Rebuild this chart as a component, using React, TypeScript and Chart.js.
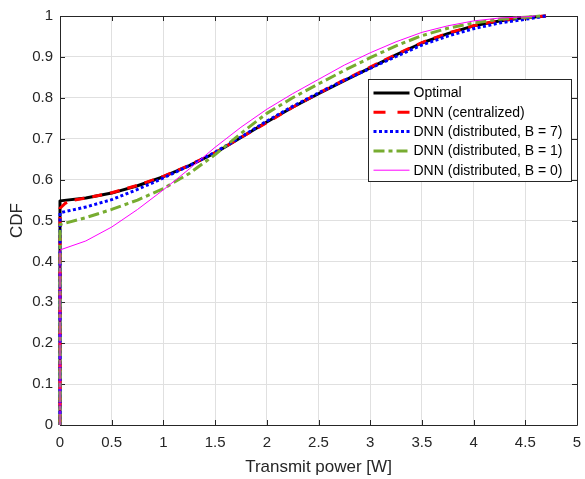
import React, { useEffect, useRef } from 'react';
import { Chart, registerables } from 'chart.js';

Chart.register(...registerables);

// ---- data ----
const xTicksMax = 5;
const yTicksMax = 1;

const optimalX = [0, 0, 0.25, 0.5, 0.75, 1, 1.25, 1.5, 1.75, 2, 2.25, 2.5, 2.75, 3, 3.25, 3.5, 3.75, 4, 4.25, 4.5, 4.7];
const optimalY = [0, 0.548, 0.555, 0.567, 0.585, 0.607, 0.634, 0.665, 0.703, 0.741, 0.777, 0.81, 0.842, 0.873, 0.905, 0.934, 0.957, 0.976, 0.988, 0.996, 1.0];

const centralX = [0, 0, 0.05, 0.1, 0.25, 0.5, 0.75, 1, 1.25, 1.5, 1.75, 2, 2.25, 2.5, 2.75, 3, 3.25, 3.5, 3.75, 4, 4.25, 4.5, 4.7];
const centralY = [0, 0.53, 0.542, 0.548, 0.555, 0.568, 0.586, 0.608, 0.635, 0.666, 0.703, 0.739, 0.777, 0.811, 0.844, 0.875, 0.906, 0.935, 0.958, 0.976, 0.989, 0.996, 1.0];

const distB7X = [0, 0, 0.25, 0.5, 0.75, 1, 1.25, 1.5, 1.75, 2, 2.25, 2.5, 2.75, 3, 3.25, 3.5, 3.75, 4, 4.25, 4.5, 4.7];
const distB7Y = [0, 0.519, 0.533, 0.551, 0.576, 0.604, 0.634, 0.667, 0.704, 0.743, 0.779, 0.812, 0.843, 0.872, 0.901, 0.929, 0.951, 0.969, 0.983, 0.992, 1.0];

const distB1X = [0, 0, 0.25, 0.5, 0.75, 1, 1.25, 1.5, 1.75, 2, 2.25, 2.5, 2.75, 3, 3.25, 3.5, 3.75, 4, 4.25, 4.5, 4.65];
const distB1Y = [0, 0.49, 0.507, 0.527, 0.55, 0.578, 0.615, 0.661, 0.713, 0.762, 0.8, 0.834, 0.867, 0.898, 0.927, 0.952, 0.97, 0.983, 0.992, 0.997, 1.0];

const distB0X = [0, 0, 0.25, 0.5, 0.75, 1, 1.25, 1.5, 1.75, 2, 2.25, 2.5, 2.75, 3, 3.25, 3.5, 3.75, 4, 4.25, 4.5, 4.6];
const distB0Y = [0, 0.428, 0.45, 0.484, 0.527, 0.575, 0.626, 0.679, 0.728, 0.772, 0.81, 0.845, 0.88, 0.91, 0.937, 0.96, 0.976, 0.988, 0.995, 0.998, 1.0];

const seriesLabels = [
  'Optimal',
  'DNN (centralized)',
  'DNN (distributed, B = 7)',
  'DNN (distributed, B = 1)',
  'DNN (distributed, B = 0)',
];

const xAxisTitle = 'Transmit power [W]';
const yAxisTitle = 'CDF';

const FONT = '"Liberation Sans", Arial, Helvetica, sans-serif';
const AXIS_COLOR = '#262626';

const toPoints = (xs: number[], ys: number[]) => xs.map((x, i) => ({ x, y: ys[i] }));

const framePlugin = {
  id: 'matlabFrame',
  beforeDatasetsDraw(chart: any) {
    const { ctx, chartArea } = chart;
    const { left, right, top, bottom } = chartArea;
    ctx.save();
    ctx.strokeStyle = AXIS_COLOR;
    ctx.lineWidth = 1;
    ctx.beginPath();
    ctx.rect(Math.round(left) + 0.5, Math.round(top) + 0.5, Math.round(right - left), Math.round(bottom - top));
    ctx.stroke();
    const tl = 5;
    const xs = chart.scales.x;
    const ys = chart.scales.y;
    ctx.beginPath();
    xs.ticks.forEach((t: any) => {
      const px = Math.round(xs.getPixelForValue(t.value)) + 0.5;
      ctx.moveTo(px, bottom);
      ctx.lineTo(px, bottom - tl);
      ctx.moveTo(px, top);
      ctx.lineTo(px, top + tl);
    });
    ys.ticks.forEach((t: any) => {
      const py = Math.round(ys.getPixelForValue(t.value)) + 0.5;
      ctx.moveTo(left, py);
      ctx.lineTo(left + tl, py);
      ctx.moveTo(right, py);
      ctx.lineTo(right - tl, py);
    });
    ctx.stroke();
    ctx.restore();
  },
};

const legendPlugin = {
  id: 'boxLegend',
  afterDraw(chart: any) {
    const { ctx, chartArea } = chart;
    const boxW = 203;
    const boxH = 102;
    const bx = Math.round(chartArea.right - 6 - boxW) + 0.5;
    const by = Math.round(chartArea.top + 63) + 0.5;
    ctx.save();
    ctx.fillStyle = '#ffffff';
    ctx.fillRect(bx, by, boxW, boxH);
    ctx.strokeStyle = AXIS_COLOR;
    ctx.lineWidth = 1;
    ctx.setLineDash([]);
    ctx.strokeRect(bx, by, boxW, boxH);
    const rowH = 19.3;
    chart.data.datasets.forEach((ds: any, i: number) => {
      const cy = by + 13.5 + i * rowH;
      ctx.beginPath();
      ctx.strokeStyle = ds.borderColor;
      ctx.lineWidth = ds.borderWidth;
      ctx.setLineDash(ds.legendDash || []);
      ctx.lineCap = 'butt';
      ctx.moveTo(bx + 5, cy);
      ctx.lineTo(bx + 41, cy);
      ctx.stroke();
      ctx.setLineDash([]);
      ctx.fillStyle = '#000000';
      ctx.font = `14px ${FONT}`;
      ctx.textBaseline = 'middle';
      ctx.textAlign = 'left';
      ctx.fillText(ds.label, bx + 45, cy + 0.5);
    });
    ctx.restore();
  },
};

export default function App() {
  const canvasRef = useRef<HTMLCanvasElement | null>(null);

  useEffect(() => {
    document.body.style.margin = '0';
    const canvas = canvasRef.current;
    if (!canvas) return;
    const common = {
      showLine: true,
      pointRadius: 0,
      clip: false,
      tension: 0,
      borderJoinStyle: 'round',
    };
    const chart = new Chart(canvas, {
      type: 'scatter',
      data: {
        datasets: [
          {
            ...common,
            label: seriesLabels[0],
            data: toPoints(optimalX, optimalY),
            borderColor: '#000000',
            borderWidth: 3,
            order: 5,
          } as any,
          {
            ...common,
            label: seriesLabels[1],
            data: toPoints(centralX, centralY),
            borderColor: '#ff0000',
            borderWidth: 3,
            borderDash: [10, 8],
            legendDash: [12, 12],
            order: 4,
          },
          {
            ...common,
            label: seriesLabels[2],
            data: toPoints(distB7X, distB7Y),
            borderColor: '#0000ff',
            borderWidth: 3,
            borderDash: [3, 2.5],
            legendDash: [3, 2.5],
            order: 3,
          },
          {
            ...common,
            label: seriesLabels[3],
            data: toPoints(distB1X, distB1Y),
            borderColor: '#77ac30',
            borderWidth: 3,
            borderDash: [11, 4, 4, 4],
            legendDash: [11, 4, 4, 4],
            order: 2,
          },
          {
            ...common,
            label: seriesLabels[4],
            data: toPoints(distB0X, distB0Y),
            borderColor: '#ff00ff',
            borderWidth: 1,
            order: 1,
          },
        ],
      },
      options: {
        responsive: false,
        animation: false,
        devicePixelRatio: 1,
        layout: { padding: { top: 16, right: 8, left: 0, bottom: 0 } },
        plugins: {
          legend: { display: false },
          tooltip: { enabled: false },
        },
        scales: {
          x: {
            type: 'linear',
            min: 0,
            max: xTicksMax,
            afterFit: (s: any) => {
              s.height = 54;
              s.paddingLeft = 0;
              s.paddingRight = 0;
            },
            border: { display: false },
            grid: { color: '#e0e0e0', drawTicks: false, lineWidth: 1 },
            ticks: {
              stepSize: 0.5,
              padding: 9,
              color: AXIS_COLOR,
              font: { family: FONT, size: 15 },
              maxRotation: 0,
              callback: (v: any) => String(Math.round(Number(v) * 10) / 10),
            },
            title: {
              display: true,
              text: xAxisTitle,
              color: AXIS_COLOR,
              font: { family: FONT, size: 17 },
              padding: { top: 0, bottom: 1 },
            },
          },
          y: {
            type: 'linear',
            min: 0,
            max: yTicksMax,
            afterFit: (s: any) => {
              s.width = 60;
              s.paddingTop = 0;
              s.paddingBottom = 0;
            },
            border: { display: false },
            grid: { color: '#e0e0e0', drawTicks: false, lineWidth: 1 },
            ticks: {
              stepSize: 0.1,
              padding: 7,
              color: AXIS_COLOR,
              font: { family: FONT, size: 15 },
              callback: (v: any) => String(Math.round(Number(v) * 10) / 10),
            },
            title: {
              display: true,
              text: yAxisTitle,
              color: AXIS_COLOR,
              font: { family: FONT, size: 17 },
              padding: { top: 7, bottom: 0 },
            },
          },
        },
      },
      plugins: [framePlugin, legendPlugin],
    });
    return () => chart.destroy();
  }, []);

  return (
    <div style={{ width: 585, height: 479, background: '#ffffff' }}>
      <canvas ref={canvasRef} width={585} height={479} style={{ display: 'block' }} />
    </div>
  );
}
